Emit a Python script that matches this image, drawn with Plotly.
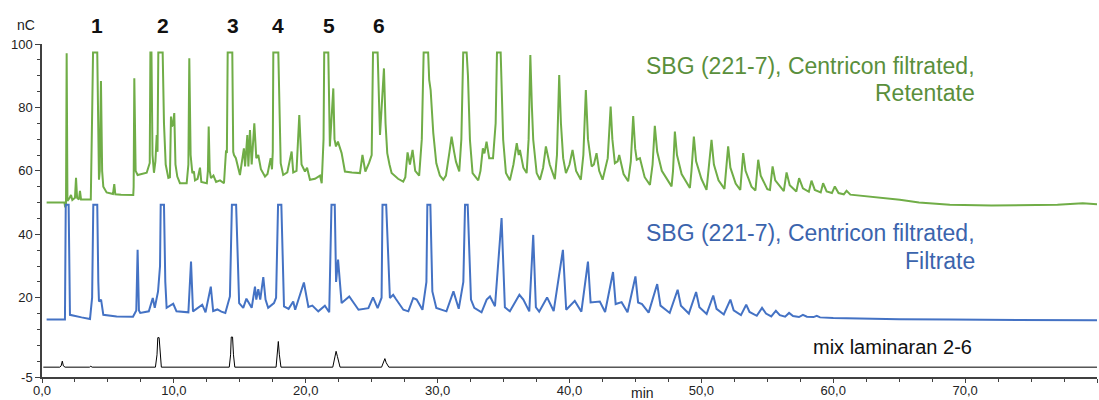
import plotly.graph_objects as go

# --- Retentate trace (nC vs. min) ---
retentate_min = [
    0.35, 1.70, 1.76, 1.82, 1.87, 1.93, 2.10, 2.20, 2.30, 2.50,
    2.58, 2.66, 2.80, 2.88, 2.96, 3.30, 3.70, 3.81, 3.87, 4.19,
    4.27, 4.32, 4.38, 4.47, 4.56, 4.65, 4.90, 5.38, 5.48, 5.56,
    6.00, 6.92, 6.95, 7.00, 7.10, 7.25, 7.94, 8.17, 8.22, 8.30,
    8.38, 8.49, 8.60, 8.70, 8.76, 8.82, 9.15, 9.25, 9.38, 9.58,
    9.70, 9.78, 9.85, 9.93, 10.03, 10.12, 10.26, 10.46, 10.97, 11.10,
    11.17, 11.27, 11.40, 11.52, 11.60, 11.80, 11.98, 12.08, 12.50, 12.58,
    12.64, 12.72, 12.81, 13.00, 13.20, 13.50, 13.80, 13.95, 14.02, 14.08,
    14.43, 14.50, 14.56, 14.70, 15.01, 15.15, 15.31, 15.40, 15.57, 15.65,
    15.77, 15.90, 16.10, 16.25, 16.40, 16.60, 16.91, 17.10, 17.34, 17.44,
    17.50, 17.54, 17.92, 18.10, 18.29, 18.60, 18.93, 19.05, 19.30, 19.51,
    19.68, 19.94, 20.10, 20.32, 20.70, 21.08, 21.21, 21.35, 21.40, 21.71,
    21.83, 22.09, 22.18, 22.29, 22.44, 22.72, 22.97, 23.50, 24.11, 24.30,
    24.52, 24.80, 25.00, 25.10, 25.45, 25.63, 25.93, 26.05, 26.18, 26.35,
    26.51, 27.00, 27.39, 27.55, 27.72, 27.90, 28.10, 28.30, 28.41, 28.60,
    28.80, 28.94, 29.28, 29.36, 29.47, 29.67, 29.90, 30.17, 30.43, 30.63,
    30.90, 31.06, 31.25, 31.39, 31.64, 31.80, 31.94, 32.20, 32.30, 32.45,
    32.65, 33.08, 33.25, 33.43, 33.55, 33.71, 33.91, 34.20, 34.40, 34.50,
    34.78, 34.97, 35.18, 35.48, 35.75, 36.00, 36.15, 36.24, 36.50, 36.75,
    36.90, 37.03, 37.15, 37.25, 37.51, 37.76, 38.00, 38.21, 38.50, 38.89,
    39.05, 39.22, 39.35, 39.52, 39.73, 40.00, 40.23, 40.50, 40.86, 41.05,
    41.24, 41.40, 41.68, 41.85, 42.05, 42.25, 42.51, 42.90, 43.12, 43.25,
    43.44, 43.65, 43.77, 44.10, 44.45, 44.65, 44.83, 44.98, 45.10, 45.34,
    45.70, 46.10, 46.30, 46.47, 46.65, 47.00, 47.74, 47.85, 47.99, 48.15,
    48.50, 49.13, 49.25, 49.43, 49.60, 50.00, 50.39, 50.55, 50.77, 50.95,
    51.30, 51.75, 52.03, 52.20, 52.60, 52.95, 53.17, 53.35, 53.80, 54.10,
    54.31, 54.50, 55.00, 55.20, 55.40, 55.60, 56.25, 56.46, 56.70, 57.20,
    57.41, 57.70, 58.15, 58.35, 58.60, 59.05, 59.23, 59.50, 59.90, 60.12,
    60.40, 60.80, 61.01, 61.30, 62.50, 65.05, 66.50, 68.84, 72.00, 75.00,
    77.00, 78.92, 79.50, 80.00,
]
retentate_nc = [
    50.0, 50.0, 48.5, 49.5, 97.1, 50.5, 51.5, 52.4, 50.8, 51.5,
    57.8, 51.5, 51.0, 53.7, 51.0, 50.9, 51.0, 80.0, 97.3, 97.3,
    75.0, 57.2, 60.0, 88.3, 60.0, 55.0, 53.2, 52.7, 55.8, 52.6,
    52.5, 52.4, 55.0, 89.2, 60.0, 58.7, 59.4, 62.5, 97.3, 97.3,
    65.0, 59.4, 63.0, 71.3, 66.0, 97.3, 97.3, 75.0, 62.0, 57.8,
    58.0, 77.1, 74.0, 74.5, 78.2, 62.0, 58.2, 56.1, 56.1, 62.0,
    95.5, 65.0, 59.3, 59.8, 57.0, 57.5, 61.0, 56.5, 56.1, 60.0,
    74.0, 60.0, 57.7, 58.5, 56.5, 57.0, 56.1, 66.1, 66.0, 97.3,
    97.3, 66.0, 65.0, 64.0, 58.7, 62.0, 67.1, 61.4, 71.3, 61.4,
    72.9, 62.0, 75.0, 64.0, 65.0, 60.5, 58.2, 59.0, 64.0, 60.5,
    66.0, 97.3, 97.3, 62.4, 58.7, 59.5, 66.1, 59.5, 60.0, 77.6,
    62.0, 59.8, 61.0, 57.2, 57.5, 58.5, 56.1, 70.0, 97.3, 97.3,
    67.7, 86.0, 70.0, 67.7, 69.2, 65.6, 59.8, 59.5, 59.3, 65.0,
    59.8, 62.5, 65.0, 97.3, 97.3, 71.3, 92.3, 75.0, 65.6, 62.0,
    59.3, 57.5, 56.6, 58.0, 65.8, 62.0, 66.6, 60.0, 59.3, 58.5,
    70.0, 97.3, 97.3, 88.7, 85.5, 72.0, 62.4, 58.5, 57.2, 58.5,
    66.0, 70.8, 66.0, 62.9, 59.8, 70.0, 97.3, 97.3, 90.0, 69.8,
    59.3, 57.0, 60.0, 67.1, 65.5, 69.2, 64.0, 64.0, 75.0, 97.3,
    97.3, 69.8, 59.3, 57.0, 62.0, 68.7, 65.0, 66.6, 61.0, 59.3,
    70.0, 96.5, 80.0, 69.8, 59.3, 57.2, 61.0, 67.7, 62.0, 57.4,
    65.0, 90.2, 75.0, 64.0, 59.3, 62.0, 66.6, 60.0, 57.2, 65.0,
    85.5, 70.0, 61.4, 62.0, 65.6, 60.0, 57.2, 64.0, 80.3, 70.0,
    62.4, 63.0, 65.0, 59.0, 56.7, 63.0, 77.3, 67.0, 63.5, 64.0,
    58.0, 55.6, 62.0, 74.2, 66.0, 60.0, 55.1, 60.0, 72.4, 65.0,
    59.0, 54.6, 60.0, 70.8, 63.0, 57.5, 54.0, 60.0, 69.8, 62.0,
    57.0, 54.3, 67.7, 61.0, 56.0, 54.0, 65.6, 60.0, 55.0, 53.8,
    63.5, 58.5, 54.2, 54.0, 61.4, 57.0, 53.6, 59.5, 55.5, 53.5,
    57.7, 54.5, 53.4, 56.9, 54.0, 53.2, 56.1, 53.5, 53.0, 55.1,
    53.0, 52.6, 53.7, 52.5, 52.0, 50.9, 50.0, 49.3, 49.1, 49.1,
    49.3, 49.8, 49.6, 49.5,
]

# --- Filtrate trace ---
filtrate_min = [
    0.35, 1.74, 1.80, 2.02, 2.12, 2.58, 3.00, 3.64, 3.80, 3.89,
    4.19, 4.27, 4.32, 4.48, 4.65, 5.66, 6.90, 7.15, 7.25, 7.35,
    7.45, 8.10, 8.40, 8.55, 8.80, 8.95, 9.00, 9.25, 9.35, 9.45,
    9.95, 10.20, 11.10, 11.30, 11.45, 12.15, 12.40, 12.80, 12.98, 13.30,
    13.60, 13.90, 14.25, 14.40, 14.72, 14.95, 15.26, 15.50, 15.90, 16.15,
    16.25, 16.40, 16.55, 16.78, 16.95, 17.15, 17.59, 17.75, 17.90, 18.15,
    18.35, 18.70, 19.05, 19.20, 19.86, 20.20, 20.50, 20.95, 21.45, 21.78,
    21.95, 22.20, 22.30, 22.45, 22.72, 23.30, 24.00, 24.75, 25.10, 25.45,
    25.75, 25.82, 26.10, 26.38, 26.63, 26.85, 27.40, 27.78, 28.15, 28.41,
    28.85, 29.15, 29.22, 29.45, 29.60, 29.90, 30.67, 31.20, 31.60, 31.95,
    32.08, 32.28, 32.53, 32.78, 33.33, 33.72, 33.97, 34.35, 34.85, 35.10,
    35.48, 36.20, 36.50, 36.95, 37.25, 37.45, 37.70, 38.30, 38.80, 39.50,
    39.75, 40.40, 40.90, 41.40, 41.60, 42.30, 42.70, 43.30, 43.50, 43.95,
    44.40, 45.00, 45.20, 45.50, 46.00, 46.65, 46.90, 47.60, 48.20, 48.45,
    49.05, 49.60, 49.85, 50.40, 50.90, 51.15, 51.70, 52.20, 52.45, 53.00,
    53.40, 53.65, 54.20, 54.60, 54.90, 55.30, 55.65, 55.95, 56.35, 56.65,
    56.95, 57.40, 57.70, 58.00, 58.50, 58.75, 59.00, 60.00, 62.00, 65.00,
    68.80, 75.00, 80.00,
]
filtrate_nc = [
    13.1, 13.1, 49.3, 49.3, 14.6, 14.1, 13.8, 13.3, 20.0, 49.3,
    49.3, 25.0, 18.8, 19.4, 14.6, 14.1, 14.0, 16.0, 35.1, 16.0,
    15.2, 15.7, 19.9, 16.8, 22.0, 30.0, 49.3, 49.3, 25.0, 16.8,
    18.1, 15.7, 15.4, 31.4, 15.7, 17.8, 15.4, 23.5, 15.8, 16.3,
    15.6, 15.2, 20.4, 49.3, 49.3, 18.3, 16.8, 19.7, 16.8, 23.5,
    19.4, 22.7, 19.4, 26.5, 19.4, 16.8, 18.3, 20.0, 49.3, 49.3,
    17.3, 16.5, 18.8, 16.2, 24.8, 17.1, 17.5, 15.7, 17.5, 15.4,
    49.3, 49.3, 25.0, 32.0, 18.3, 20.4, 16.2, 16.7, 20.1, 16.7,
    20.0, 49.3, 49.3, 19.9, 20.9, 19.5, 16.2, 15.7, 19.9, 19.4,
    16.2, 25.0, 49.3, 49.3, 22.0, 16.8, 15.7, 22.0, 16.5, 25.0,
    49.3, 49.3, 19.4, 16.8, 15.4, 19.4, 20.4, 17.3, 45.1, 17.0,
    15.7, 20.9, 19.4, 15.7, 39.8, 17.0, 15.6, 20.1, 15.8, 35.1,
    16.2, 19.0, 15.6, 31.4, 18.5, 18.8, 15.5, 28.1, 18.0, 18.6,
    15.4, 26.7, 18.5, 18.0, 15.3, 24.3, 17.5, 15.2, 22.5, 17.5,
    15.0, 21.8, 17.0, 14.9, 20.7, 16.5, 14.7, 19.4, 16.0, 14.5,
    17.8, 15.5, 14.3, 16.8, 15.0, 14.1, 15.9, 14.5, 14.0, 15.2,
    14.2, 13.9, 14.6, 14.0, 13.9, 14.3, 13.8, 13.6, 13.4, 13.2,
    13.1, 13.0, 12.9,
]

# --- Laminaran 2-6 standard mix ---
mix_min = [
    0.10, 1.35, 1.45, 1.54, 1.62, 1.75, 3.60, 3.70, 3.80, 8.60,
    8.72, 8.78, 8.88, 8.95, 9.05, 14.20, 14.30, 14.35, 14.45, 14.52,
    14.62, 17.75, 17.85, 17.92, 18.00, 18.12, 22.05, 22.20, 22.30, 22.40,
    22.60, 25.75, 25.90, 26.00, 26.10, 26.30, 80.00,
]
mix_nc = [
    -1.9, -1.9, -1.5, 0.0, -1.5, -1.9, -1.9, -1.6, -1.9, -1.9,
    2.0, 7.4, 7.4, 2.0, -1.9, -1.9, 2.0, 7.6, 7.6, 2.0,
    -1.9, -1.9, 2.0, 6.2, 2.0, -1.9, -1.9, 1.5, 3.1, 1.5,
    -1.9, -1.9, -0.5, 0.8, -0.5, -1.9, -1.9,
]

# Peak numbering (degree of polymerisation) above the chromatograms
peak_labels = ["1", "2", "3", "4", "5", "6"]
peak_label_min = [4.14, 9.2, 14.5, 17.9, 21.76, 25.55]

x_tick_vals = [0, 10, 20, 30, 40, 50, 60, 70, 80]
x_tick_text = ["0,0", "10,0", "20,0", "30,0", "40,0", "50,0", "60,0", "70,0", "80,0"]
y_tick_vals = [-5, 20, 40, 60, 80, 100]
y_tick_text = ["-5", "20", "40", "60", "80", "100"]

GREEN = "#70AD47"
BLUE = "#4472C4"
GREEN_TXT = "#5A8F3C"
BLUE_TXT = "#3B64AD"
AXIS = "#404040"
FONT = "Liberation Sans, Arial, sans-serif"

fig = go.Figure()
fig.add_trace(go.Scatter(x=retentate_min, y=retentate_nc, mode="lines",
                         line=dict(color=GREEN, width=2), hoverinfo="skip"))
fig.add_trace(go.Scatter(x=filtrate_min, y=filtrate_nc, mode="lines",
                         line=dict(color=BLUE, width=2), hoverinfo="skip"))
fig.add_trace(go.Scatter(x=mix_min, y=mix_nc, mode="lines",
                         line=dict(color="#000000", width=1), hoverinfo="skip"))

annotations = []
for lab, t in zip(peak_labels, peak_label_min):
    annotations.append(dict(x=t, y=1.057, xref="x", yref="paper", text="<b>%s</b>" % lab,
                            showarrow=False, font=dict(family=FONT, size=21, color="#111111"),
                            xanchor="center", yanchor="middle"))

# Trace captions
caption_x = 70.9
captions = [
    (caption_x, 93.1, "SBG (221-7), Centricon filtrated,", GREEN_TXT, 23),
    (caption_x, 84.6, "Retentate", GREEN_TXT, 23),
    (caption_x, 40.3, "SBG (221-7), Centricon filtrated,", BLUE_TXT, 23),
    (caption_x, 31.5, "Filtrate", BLUE_TXT, 23),
    (70.7, 4.6, "mix laminaran 2-6", "#111111", 20),
]
for cx, cy, txt, col, sz in captions:
    annotations.append(dict(x=cx, y=cy, xref="x", yref="y", text=txt, showarrow=False,
                            xanchor="right", yanchor="middle",
                            font=dict(family=FONT, size=sz, color=col)))

# Axis units
annotations.append(dict(x=-0.0155, y=1.057, xref="paper", yref="paper", text="nC", showarrow=False,
                        font=dict(family=FONT, size=14, color="#222222"),
                        xanchor="center", yanchor="middle"))
annotations.append(dict(x=45.5, y=-0.048, xref="x", yref="paper", text="min", showarrow=False,
                        font=dict(family=FONT, size=14, color="#222222"),
                        xanchor="center", yanchor="middle"))

fig.update_layout(
    width=1099, height=400,
    margin=dict(l=42, r=2, t=44, b=23),
    paper_bgcolor="white", plot_bgcolor="white",
    showlegend=False,
    font=dict(family=FONT, size=13, color="#222222"),
    annotations=annotations,
    xaxis=dict(range=[0, 80], tickmode="array", tickvals=x_tick_vals, ticktext=x_tick_text,
               ticks="outside", ticklen=4, tickwidth=1, tickcolor=AXIS,
               showline=True, linecolor=AXIS, linewidth=1.5,
               showgrid=False, zeroline=False, automargin=False,
               ticklabelstandoff=-3,
               minor=dict(tickmode="linear", tick0=0, dtick=2.5, ticks="outside",
                          ticklen=3, tickcolor=AXIS, showgrid=False),
               tickfont=dict(family=FONT, size=13, color="#222222")),
    yaxis=dict(range=[-5, 100], tickmode="array", tickvals=y_tick_vals, ticktext=y_tick_text,
               ticks="outside", ticklen=5, tickwidth=1, tickcolor=AXIS,
               showline=True, linecolor=AXIS, linewidth=1.5,
               showgrid=False, zeroline=False, automargin=False,
               minor=dict(tickmode="linear", tick0=0, dtick=5, ticks="outside",
                          ticklen=3, tickcolor=AXIS, showgrid=False),
               tickfont=dict(family=FONT, size=13, color="#222222")),
)

fig.write_html("out.html")
